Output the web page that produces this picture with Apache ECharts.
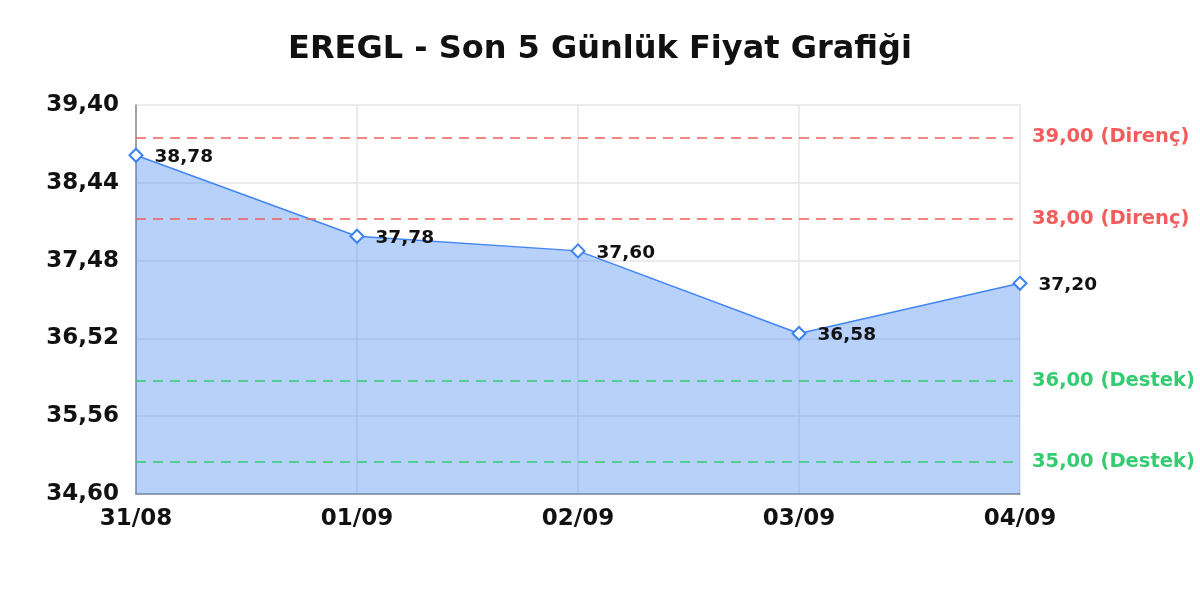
<!DOCTYPE html>
<html><head><meta charset="utf-8">
<script src="https://cdn.jsdelivr.net/npm/echarts@6/dist/echarts.min.js"></script>
<style>html,body{margin:0;padding:0;background:#fff}#c{width:1200px;height:600px}</style>
</head><body><div id="c"></div>
<script>
const titleText = 'EREGL - Son 5 Günlük Fiyat Grafiği';
const categories = ['31/08', '01/09', '02/09', '03/09', '04/09'];
const prices = [38.78, 37.78, 37.60, 36.58, 37.20];
const resistanceLevels = [39.00, 38.00];
const supportLevels = [36.00, 35.00];
const yMin = 34.60, yMax = 39.40, yStep = 0.96;

const fmt = v => Number(v).toFixed(2).replace('.', ',');
const FONT = 'DejaVu Sans';
const lines = [];
resistanceLevels.forEach(v => lines.push({yAxis: v, name: 'Direnç', lineStyle: {color: '#f25c5c'}, label: {color: '#f25c5c'}}));
supportLevels.forEach(v => lines.push({yAxis: v, name: 'Destek', lineStyle: {color: '#33cc70'}, label: {color: '#33cc70'}}));

const chart = echarts.init(document.getElementById('c'), null, {renderer: 'canvas'});
chart.setOption({
  animation: false,
  backgroundColor: '#fff',
  title: {text: titleText, left: 'center', top: 29,
    textStyle: {fontFamily: FONT, fontWeight: 'bold', fontSize: 32, color: '#111'}},
  grid: {left: 136, right: 180, top: 105, bottom: 106, containLabel: false},
  xAxis: {type: 'category', data: categories, boundaryGap: false,
    axisLine: {lineStyle: {color: '#888', width: 1.5}},
    axisTick: {show: false},
    splitLine: {show: true, lineStyle: {color: '#e6e6e6', width: 1.5}},
    axisLabel: {fontFamily: FONT, fontWeight: 'bold', fontSize: 23, color: '#111', margin: 14}},
  yAxis: {type: 'value', min: yMin, max: yMax, interval: yStep,
    axisLine: {show: true, lineStyle: {color: '#888', width: 1.5}},
    axisTick: {show: false},
    splitLine: {show: true, lineStyle: {color: '#e6e6e6', width: 1.5}},
    axisLabel: {fontFamily: FONT, fontWeight: 'bold', fontSize: 23, color: '#111', margin: 17, formatter: fmt}},
  series: [{
    type: 'line', data: prices,
    symbol: 'emptyDiamond', symbolSize: 13,
    lineStyle: {color: '#4285f4', width: 1.5},
    itemStyle: {color: '#3b82f6', borderWidth: 2},
    areaStyle: {color: '#4285f4', opacity: 0.38, origin: 'start'},
    label: {show: true, position: 'right', distance: 11, formatter: p => fmt(p.value),
      fontFamily: FONT, fontWeight: 'bold', fontSize: 18.5, color: '#111', offset: [0, 2]},
    markLine: {symbol: 'none', silent: true,
      lineStyle: {type: [10, 7], width: 1.5},
      label: {position: 'end', distance: 12, fontFamily: FONT, fontWeight: 'bold', fontSize: 19.5,
        formatter: p => fmt(p.value) + ' (' + p.name + ')'},
      data: lines}
  }]
});
</script></body></html>
